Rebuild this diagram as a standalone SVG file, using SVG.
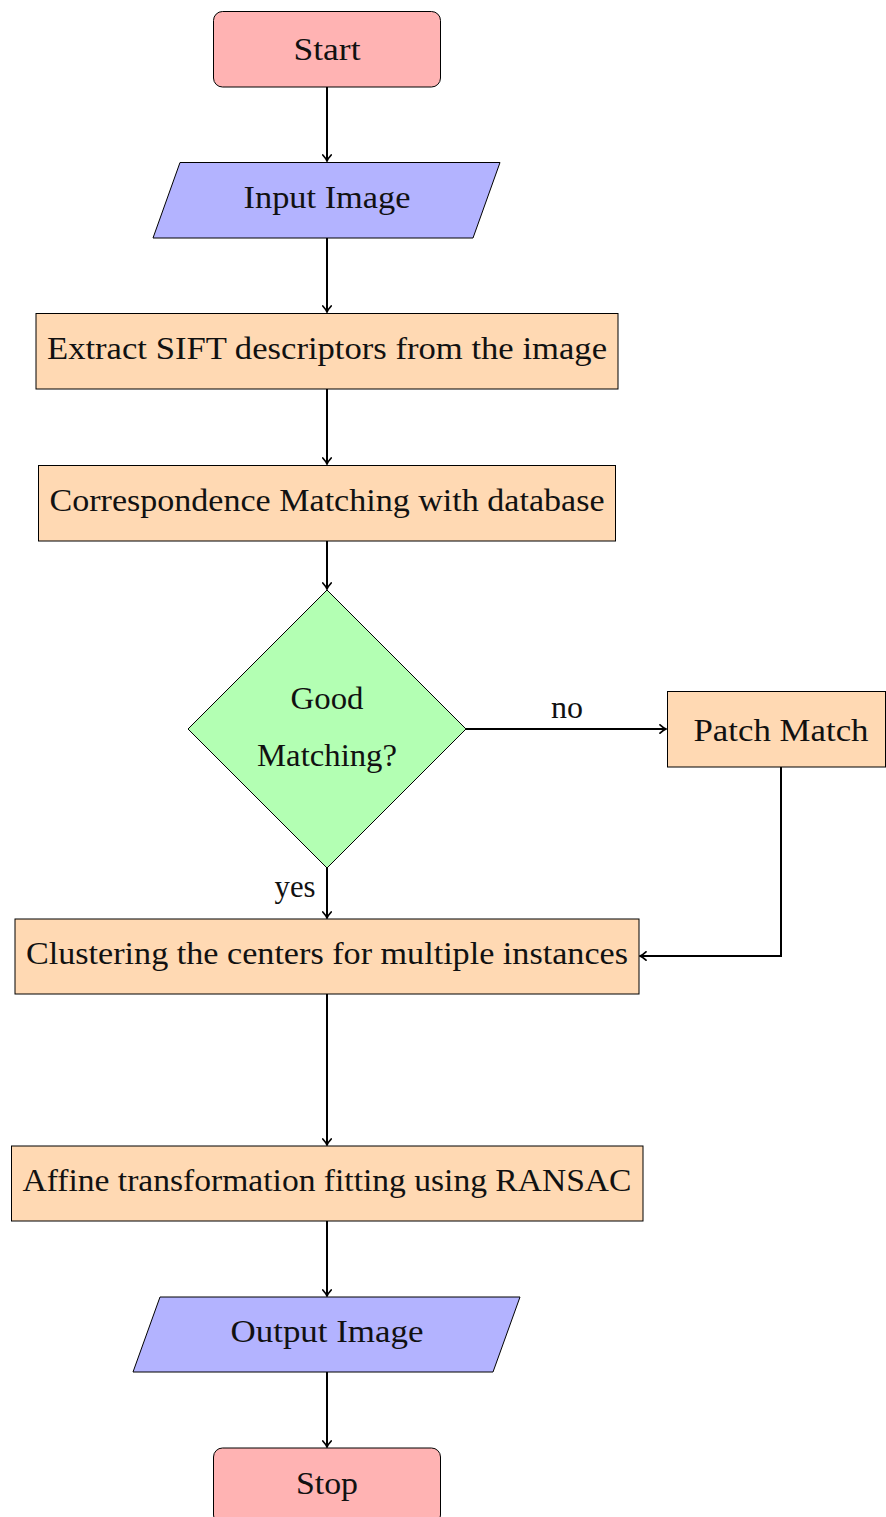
<svg xmlns="http://www.w3.org/2000/svg" width="886" height="1517" viewBox="0 0 886 1517">
<style>
text{font-family:"Liberation Serif","Times New Roman",serif;font-size:31px;fill:#111;text-anchor:middle}
.term{fill:#FFB3B3;stroke:#000;stroke-width:1}
.io{fill:#B3B3FF;stroke:#000;stroke-width:1}
.proc{fill:#FFD9B3;stroke:#000;stroke-width:1}
.dec{fill:#B3FFB3;stroke:#000;stroke-width:1}
.edge{fill:none;stroke:#000;stroke-width:2}
</style>
<defs>
<marker id="arr" viewBox="-6 -5 8 10" markerWidth="8" markerHeight="10" refX="1" refY="0" orient="auto" markerUnits="userSpaceOnUse">
<path d="M-5,-4.2 Q-1.5,-1 1,0 Q-1.5,1 -5,4.2" fill="none" stroke="#000" stroke-width="1.7" stroke-linecap="round"/>
</marker>
</defs>
<rect width="886" height="1517" fill="#fff"/>
<g id="connectors">
<line class="edge" x1="327" y1="87" x2="327" y2="161" marker-end="url(#arr)"/>
<line class="edge" x1="327" y1="238" x2="327" y2="312" marker-end="url(#arr)"/>
<line class="edge" x1="327" y1="389" x2="327" y2="464" marker-end="url(#arr)"/>
<line class="edge" x1="327" y1="541" x2="327" y2="589" marker-end="url(#arr)"/>
<line class="edge" x1="327" y1="868" x2="327" y2="918" marker-end="url(#arr)"/>
<line class="edge" x1="466" y1="729" x2="666" y2="729" marker-end="url(#arr)"/>
<polyline class="edge" points="781,767 781,956 640,956" marker-end="url(#arr)"/>
<line class="edge" x1="327" y1="994" x2="327" y2="1145" marker-end="url(#arr)"/>
<line class="edge" x1="327" y1="1221" x2="327" y2="1296" marker-end="url(#arr)"/>
<line class="edge" x1="327" y1="1372" x2="327" y2="1447" marker-end="url(#arr)"/>
<text x="567" y="718" textLength="32" lengthAdjust="spacingAndGlyphs">no</text>
<text x="295" y="897" textLength="41" lengthAdjust="spacingAndGlyphs">yes</text>
</g>
<g id="start">
<rect class="term" x="213.5" y="11.5" width="227" height="75.5" rx="9"/>
<text x="327" y="60" textLength="67" lengthAdjust="spacingAndGlyphs">Start</text>
</g>
<g id="input">
<polygon class="io" points="180,162.5 500,162.5 473,238 153,238"/>
<text x="327" y="208" textLength="167" lengthAdjust="spacingAndGlyphs">Input Image</text>
</g>
<g id="extract">
<rect class="proc" x="36" y="313.5" width="582" height="75.5"/>
<text x="327" y="359" textLength="560" lengthAdjust="spacingAndGlyphs">Extract SIFT descriptors from the image</text>
</g>
<g id="correspondence">
<rect class="proc" x="38.5" y="465.5" width="577" height="75.5"/>
<text x="327" y="511" textLength="555" lengthAdjust="spacingAndGlyphs">Correspondence Matching with database</text>
</g>
<g id="decision">
<polygon class="dec" points="327,590 466,729 327,868 188,729"/>
<text x="327" y="709" textLength="73" lengthAdjust="spacingAndGlyphs">Good</text>
<text x="327" y="766" textLength="140" lengthAdjust="spacingAndGlyphs">Matching?</text>
</g>
<g id="patch">
<rect class="proc" x="667.5" y="691.5" width="218" height="75.5"/>
<text x="781" y="741" textLength="175" lengthAdjust="spacingAndGlyphs">Patch Match</text>
</g>
<g id="cluster">
<rect class="proc" x="15" y="919" width="624" height="75"/>
<text x="327" y="964" textLength="602" lengthAdjust="spacingAndGlyphs">Clustering the centers for multiple instances</text>
</g>
<g id="affine">
<rect class="proc" x="11.5" y="1146" width="631.5" height="75"/>
<text x="327" y="1191" textLength="609" lengthAdjust="spacingAndGlyphs">Affine transformation fitting using RANSAC</text>
</g>
<g id="output">
<polygon class="io" points="160,1297 520,1297 493,1372 133,1372"/>
<text x="327" y="1342" textLength="193" lengthAdjust="spacingAndGlyphs">Output Image</text>
</g>
<g id="stop">
<rect class="term" x="213.5" y="1448" width="227" height="76" rx="9"/>
<text x="327" y="1494" textLength="62" lengthAdjust="spacingAndGlyphs">Stop</text>
</g>
</svg>
